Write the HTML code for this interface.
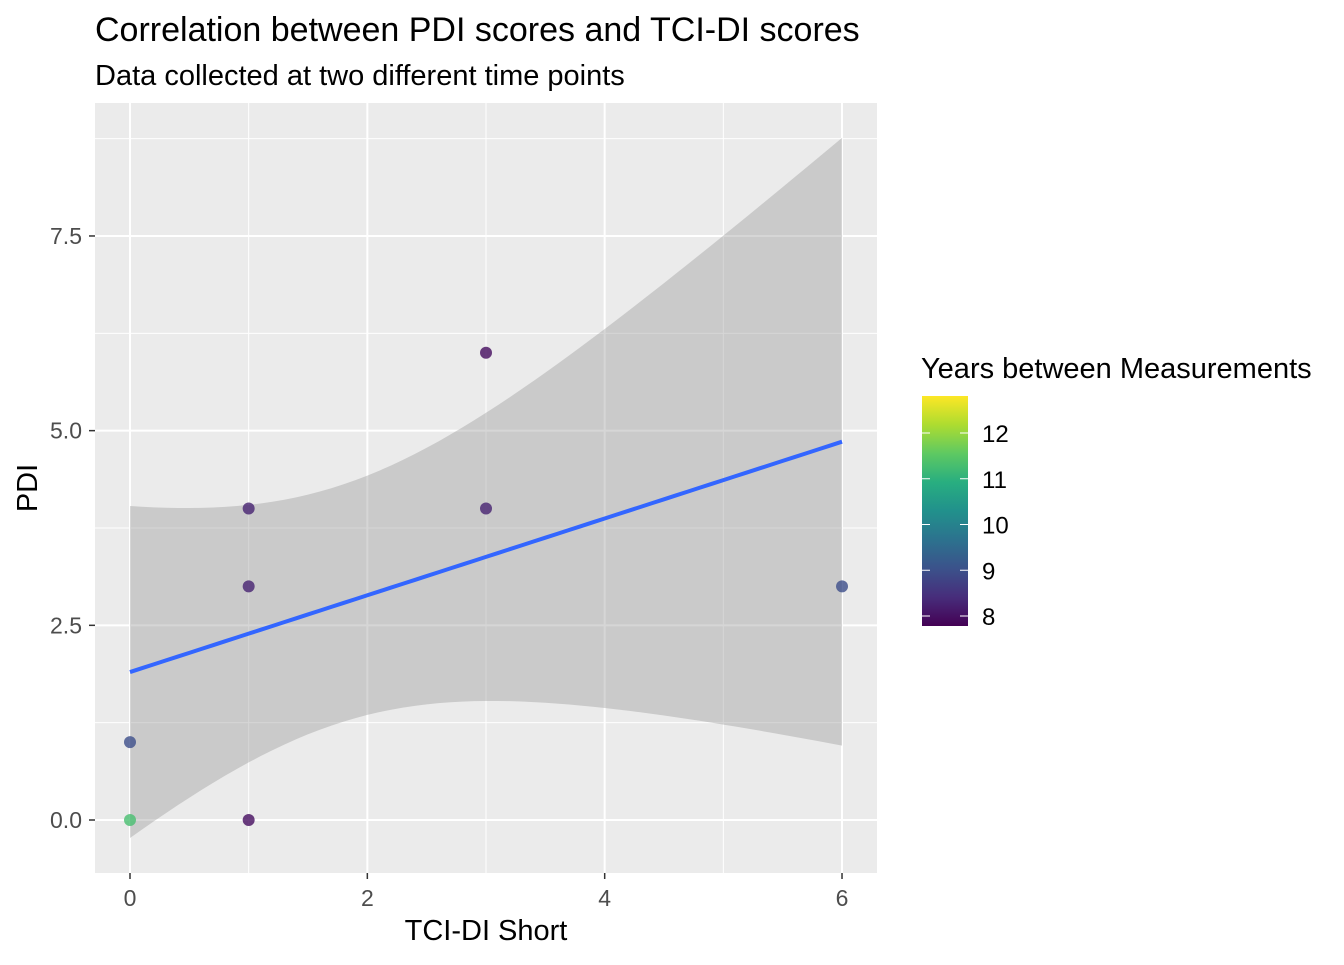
<!DOCTYPE html>
<html><head><meta charset="utf-8"><style>
body{margin:0;background:#fff;}
svg text{font-family:"Liberation Sans",Arial,sans-serif;}
</style></head><body>
<svg id="chart" width="1344" height="960" xmlns="http://www.w3.org/2000/svg">
<defs>
<linearGradient id="vir" x1="0" y1="1" x2="0" y2="0">
<stop offset="0" stop-color="#440154"/><stop offset="0.125" stop-color="#472d7b"/><stop offset="0.25" stop-color="#3b528b"/><stop offset="0.375" stop-color="#2c728e"/><stop offset="0.5" stop-color="#21918c"/><stop offset="0.625" stop-color="#28ae80"/><stop offset="0.75" stop-color="#5ec962"/><stop offset="0.875" stop-color="#addc30"/><stop offset="1" stop-color="#fde725"/>
</linearGradient>
</defs>
<text x="95" y="41" font-size="34" fill="#000">Correlation between PDI scores and TCI-DI scores</text>
<text x="95" y="85" font-size="29" fill="#000">Data collected at two different time points</text>
<rect x="95" y="103" width="782" height="770" fill="#ebebeb"/>
<g id="grid"></g>
<g id="ribbon"></g>
<g id="pts"></g>
<g id="axes"></g>
<text x="486" y="940" font-size="29" text-anchor="middle" fill="#000">TCI-DI Short</text>
<text transform="translate(37,488) rotate(-90)" font-size="29" text-anchor="middle" fill="#000">PDI</text>
<g>
<text x="921" y="378" font-size="29" fill="#000">Years between Measurements</text>
<rect x="922" y="396" width="46" height="230" fill="url(#vir)"/>
<g id="legticks"></g>
</g>
</svg>
<script>
const xs=[0,0,1,1,1,3,3,6];
const ys=[1,0,4,3,0,6,4,3];
const years=[9,11.3,8.3,8.3,8.0,8.0,8.3,9];
const xTicks=[0,2,4,6];
const yTicks=[0,2.5,5,7.5];
const yTickLabels=["0.0","2.5","5.0","7.5"];
const legTicks=[8,9,10,11,12];
const fitIntercept=1.9, fitSlope=0.493;
const ciA=2.32, ciB=0.718, ciCenter=1.76;
const X=v=>130+v*118.67, Y=v=>820-v*77.87;
const L=v=>616-(v-8)*45.75;
const NS="http://www.w3.org/2000/svg";
function mk(p,t,a){const e=document.createElementNS(NS,t);for(const k in a)e.setAttribute(k,a[k]);p.appendChild(e);return e;}
const vir=["#440154","#472d7b","#3b528b","#2c728e","#21918c","#28ae80","#5ec962","#addc30","#fde725"];
function col(v){let t=(v-7.83)/(12.81-7.83);t=Math.max(0,Math.min(1,t))*8;const i=Math.min(7,Math.floor(t)),f=t-i;
const a=vir[i],b=vir[i+1];const c=k=>Math.round(parseInt(a.substr(k,2),16)*(1-f)+parseInt(b.substr(k,2),16)*f);
return `rgb(${c(1)},${c(3)},${c(5)})`;}
const g=document.getElementById('grid');
[1,3,5].forEach(v=>{const l=mk(g,'line',{x1:X(v),x2:X(v),y1:103,y2:873,stroke:'#fff','stroke-width':1});
});
[1.25,3.75,6.25,8.75].forEach(v=>{const l=mk(g,'line',{x1:95,x2:877,y1:Y(v),y2:Y(v),stroke:'#fff','stroke-width':1});
});
xTicks.forEach(v=>{const l=mk(g,'line',{x1:X(v),x2:X(v),y1:103,y2:873,stroke:'#fff','stroke-width':2});
});
yTicks.forEach(v=>{const l=mk(g,'line',{x1:95,x2:877,y1:Y(v),y2:Y(v),stroke:'#fff','stroke-width':2});
});
const r=document.getElementById('ribbon');
let up=[],lo=[],ln=[];
for(let i=0;i<=60;i++){const x=i/10;const m=fitIntercept+fitSlope*x;const hw=Math.sqrt(ciA+ciB*(x-ciCenter)**2);
up.push(X(x)+','+Y(m+hw));lo.unshift(X(x)+','+Y(m-hw));ln.push(X(x)+','+Y(m));}
const rb=mk(r,'polygon',{points:up.concat(lo).join(' '),fill:'#999',opacity:0.4});

const p=document.getElementById('pts');
xs.forEach((x,i)=>{const c=mk(p,'circle',{cx:X(x),cy:Y(ys[i]),r:6,fill:col(years[i]),opacity:0.8});
});
const fl=mk(r.parentNode,'polyline',{points:ln.join(' '),fill:'none',stroke:'#3366ff','stroke-width':4});

const ax=document.getElementById('axes');
xTicks.forEach(v=>{const l=mk(ax,'line',{x1:X(v),x2:X(v),y1:873,y2:879,stroke:'#333','stroke-width':1.5});

const t=mk(ax,'text',{x:X(v),y:906,'font-size':23,'text-anchor':'middle',fill:'#4d4d4d'});t.textContent=v;
});
yTicks.forEach((v,i)=>{const l=mk(ax,'line',{x1:89,x2:95,y1:Y(v),y2:Y(v),stroke:'#333','stroke-width':1.5});

const t=mk(ax,'text',{x:82,y:Y(v)+8,'font-size':23,'text-anchor':'end',fill:'#4d4d4d'});t.textContent=yTickLabels[i];
});
const lt=document.getElementById('legticks');
legTicks.forEach(v=>{const y=L(v);
const a=mk(lt,'line',{x1:922,x2:930,y1:y,y2:y,stroke:'#fff','stroke-width':1});
const b=mk(lt,'line',{x1:960,x2:968,y1:y,y2:y,stroke:'#fff','stroke-width':1});
const t=mk(lt,'text',{x:982,y:y+9,'font-size':24,fill:'#000'});t.textContent=v;
});
</script>
</body></html>
